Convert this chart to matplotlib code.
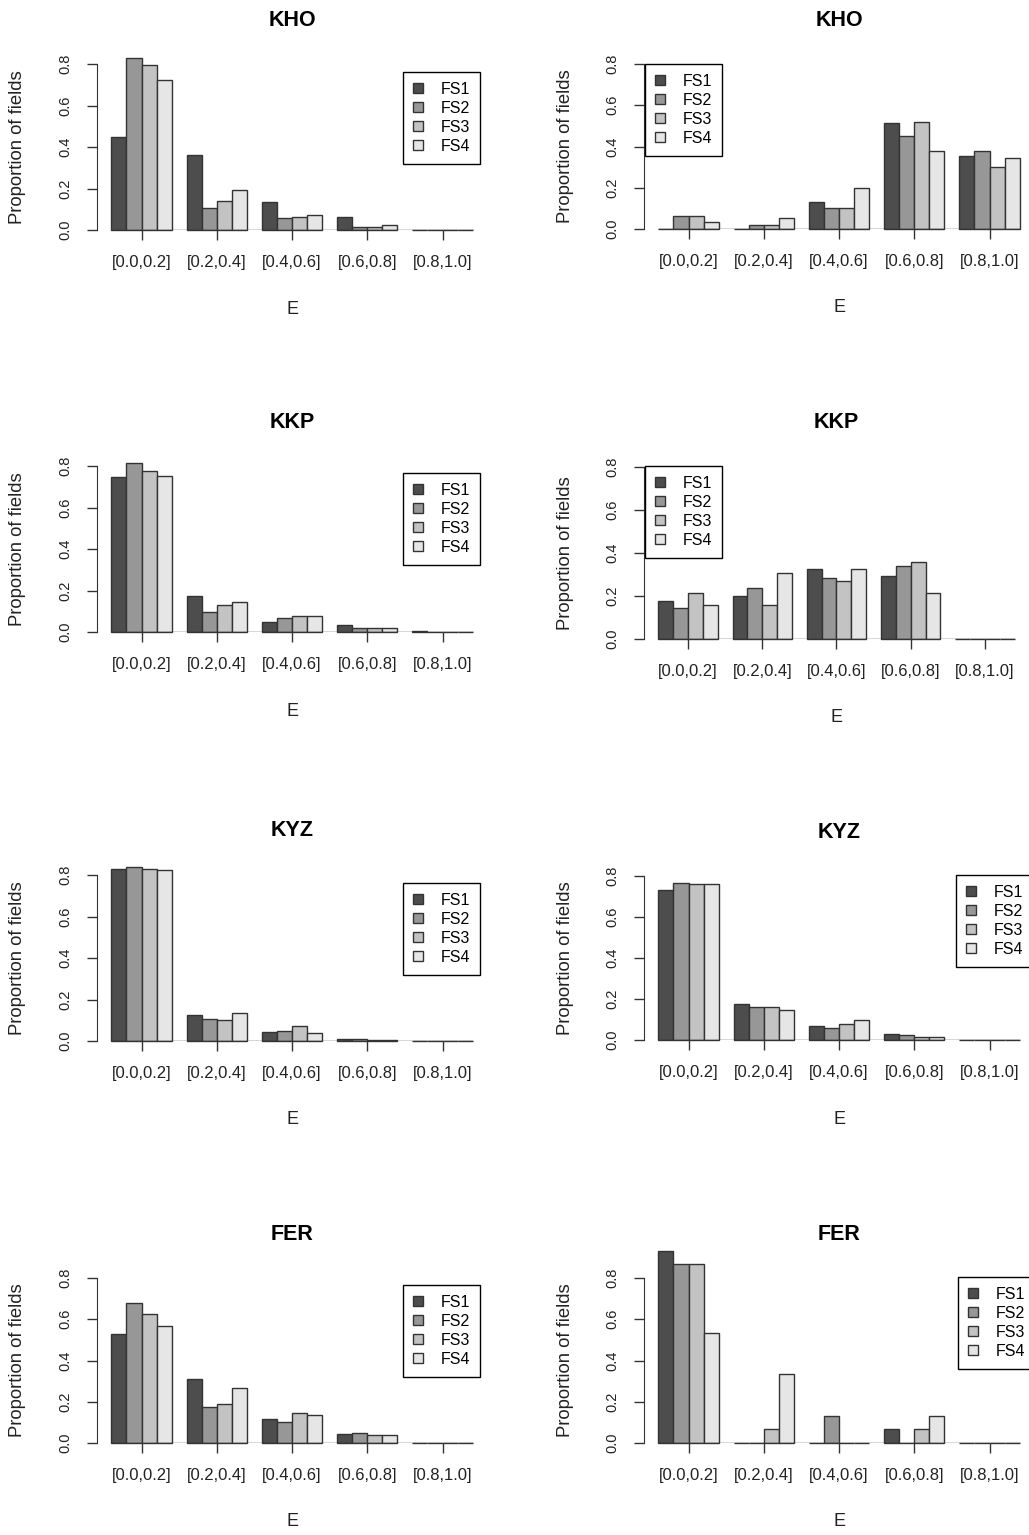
import matplotlib
matplotlib.use("Agg")
import matplotlib.pyplot as plt

plt.rcParams["font.family"] = ["Liberation Sans", "DejaVu Sans"]

# ==========================
# DATA
# ==========================

bins = ["[0.0,0.2]", "[0.2,0.4]", "[0.4,0.6]", "[0.6,0.8]", "[0.8,1.0]"]
series = ["FS1", "FS2", "FS3", "FS4"]
colors = ["#4D4D4D", "#979797", "#C3C3C3", "#E6E6E6"]
y_ticks = [0.0, 0.2, 0.4, 0.6, 0.8]

# one list per series (FS1..FS4), one value per bin
kho_left = [
    [0.446, 0.361, 0.135, 0.063, 0.0],
    [0.828, 0.108, 0.056, 0.013, 0.0],
    [0.795, 0.140, 0.061, 0.013, 0.0],
    [0.721, 0.192, 0.074, 0.023, 0.0],
]
kho_right = [
    [0.0, 0.0, 0.132, 0.512, 0.354],
    [0.063, 0.018, 0.103, 0.451, 0.376],
    [0.063, 0.018, 0.103, 0.519, 0.302],
    [0.036, 0.052, 0.200, 0.376, 0.344],
]
kkp_left = [
    [0.748, 0.174, 0.050, 0.032, 0.005],
    [0.816, 0.095, 0.066, 0.021, 0.0],
    [0.776, 0.129, 0.077, 0.021, 0.0],
    [0.753, 0.145, 0.077, 0.021, 0.0],
]
kkp_right = [
    [0.179, 0.201, 0.327, 0.295, 0.0],
    [0.142, 0.239, 0.283, 0.338, 0.0],
    [0.212, 0.159, 0.272, 0.358, 0.0],
    [0.159, 0.306, 0.327, 0.212, 0.0],
]
kyz_left = [
    [0.829, 0.124, 0.045, 0.011, 0.0],
    [0.840, 0.108, 0.050, 0.011, 0.0],
    [0.829, 0.101, 0.074, 0.005, 0.0],
    [0.824, 0.135, 0.040, 0.005, 0.0],
]
kyz_right = [
    [0.730, 0.178, 0.070, 0.029, 0.0],
    [0.764, 0.159, 0.057, 0.024, 0.0],
    [0.760, 0.159, 0.076, 0.013, 0.0],
    [0.760, 0.144, 0.097, 0.013, 0.0],
]
fer_left = [
    [0.530, 0.310, 0.116, 0.045, 0.0],
    [0.679, 0.175, 0.100, 0.050, 0.0],
    [0.627, 0.191, 0.145, 0.037, 0.0],
    [0.569, 0.265, 0.136, 0.037, 0.0],
]
fer_right = [
    [0.933, 0.0, 0.0, 0.067, 0.0],
    [0.867, 0.0, 0.133, 0.0, 0.0],
    [0.867, 0.067, 0.0, 0.067, 0.0],
    [0.533, 0.333, 0.0, 0.133, 0.0],
]

# ==========================
# LAYOUT (pixels)
# ==========================

W, H = 1029, 1535

# title, data, y-axis x, px per bar unit, y of 0, y of 0.8, legend corner, legend loc
panels = [
    ("KHO", kho_left, 97, 15.05, 230, 64, (480, 72), "upper right"),
    ("KHO", kho_right, 644, 15.05, 229, 64, (645, 64), "upper left"),
    ("KKP", kkp_left, 97, 15.05, 632, 466, (480, 473), "upper right"),
    ("KKP", kkp_right, 644, 14.85, 639, 467, (645, 466), "upper left"),
    ("KYZ", kyz_left, 97, 15.05, 1041, 875, (480, 883), "upper right"),
    ("KYZ", kyz_right, 644, 15.05, 1040, 876, (956, 875), "upper left"),
    ("FER", fer_left, 97, 15.05, 1443, 1278, (480, 1285), "upper right"),
    ("FER", fer_right, 644, 15.05, 1443, 1278, (958, 1277), "upper left"),
]

X_LO, X_HI = 0.04, 25.96
Y_TOP = 0.95
EDGE = "#333333"
TEXT = "#222222"

fig = plt.figure(figsize=(W / 100, H / 100), dpi=100)

for title, data, x_ax, ppu_x, y0, y08, leg_xy, leg_loc in panels:
    ppu_y = (y0 - y08) / 0.8
    w_px = (X_HI - X_LO) * ppu_x
    h_px = Y_TOP * ppu_y
    ax = fig.add_axes([x_ax / W, 1 - y0 / H, w_px / W, h_px / H])
    ax.patch.set_alpha(0)

    handles = []
    for s, vals in enumerate(data):
        xs = [1 + 5 * g + s + 0.5 for g in range(len(bins))]
        b = ax.bar(xs, vals, width=1, color=colors[s], edgecolor=EDGE,
                   linewidth=1, clip_on=False, zorder=3)
        handles.append(b)

    ax.hlines(0, 1, 5 * len(bins), color=EDGE, linewidth=1, zorder=4)

    ax.set_xlim(X_LO, X_HI)
    ax.set_ylim(0, Y_TOP)

    for side in ["top", "right", "bottom"]:
        ax.spines[side].set_visible(False)
    ax.spines["left"].set_bounds(0, 0.8)
    ax.spines["left"].set_color(EDGE)

    ax.set_xticks([3 + 5 * g for g in range(len(bins))], bins)
    ax.tick_params(axis="x", length=7, width=1, color=EDGE, pad=11,
                   labelsize=12, labelcolor=TEXT)

    ax.set_yticks(y_ticks, [f"{v:.1f}" for v in y_ticks])
    ax.tick_params(axis="y", length=7, width=1, color=EDGE, pad=11,
                   labelsize=10.5, labelcolor=TEXT)
    for lab in ax.get_yticklabels():
        lab.set_rotation(90)
        lab.set_va("center")

    # labels
    xc = x_ax + w_px / 2
    fig.text(xc / W, 1 - (y08 - 44) / H, title, ha="center", va="center",
             fontsize=15.5, fontweight="bold", color="black")
    fig.text(xc / W, 1 - (y0 + 79) / H, "E", ha="center", va="center",
             fontsize=13, color=TEXT)
    fig.text((x_ax - 79) / W, 1 - ((y0 + y08) / 2) / H, "Proportion of fields",
             rotation=90, ha="center", va="center", fontsize=13.3, color=TEXT)

    leg = ax.legend(handles, series, loc=leg_loc,
                    bbox_to_anchor=(leg_xy[0] / W, 1 - leg_xy[1] / H),
                    bbox_transform=fig.transFigure, borderaxespad=0,
                    fancybox=False, edgecolor="black", framealpha=1,
                    fontsize=11.5, handlelength=0.66, handleheight=0.6,
                    handletextpad=1.1, labelspacing=0.26, borderpad=0.6)
    leg.get_frame().set_linewidth(1.0)
    leg.set_zorder(10)

fig.savefig("out.png", dpi=100)
plt.close(fig)
